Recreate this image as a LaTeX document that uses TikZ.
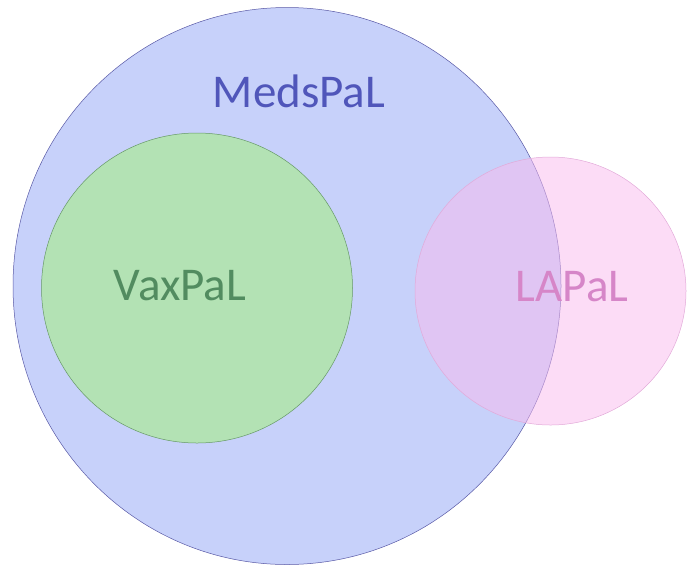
\documentclass[tikz,border=0pt]{standalone}
\usepackage{fontspec}
\setmainfont{Carlito}
\usetikzlibrary{shapes.geometric}

\definecolor{medsFill}{RGB}{199,209,250}
\definecolor{medsText}{RGB}{80,86,186}
\definecolor{vaxFill}{RGB}{179,226,180}
\definecolor{vaxText}{RGB}{82,140,96}
\definecolor{laFill}{RGB}{249,186,237}
\definecolor{laText}{RGB}{214,134,200}

\tikzset{
    setbox/.style={ellipse, inner sep=0pt, line width=0.5pt},
    setlabel/.style={font=\fontsize{47}{47}\selectfont, inner sep=0pt}
}

\begin{document}
\begin{tikzpicture}[x=1pt,y=-1pt]
    \useasboundingbox (0,0) rectangle (687,566);

    %conjuntos
    \node[setbox, fill=medsFill, draw=gray!70!blue,
        minimum width=548pt, minimum height=557pt] (meds) at (287,286) {};
    \node[setbox, fill=vaxFill, draw=gray!80!green,
        minimum width=311pt, minimum height=310pt] (vax) at (197,288) {};
    \node[setbox, fill=laFill, fill opacity=0.5, draw=laText!70,
        minimum width=271pt, minimum height=268pt] (la) at (550.5,291) {};

    %rotulos
    \node[setlabel, text=medsText] (medsName) at (299,91) {MedsPaL};
    \node[setlabel, text=vaxText] (vaxName) at (180,286) {VaxPaL};
    \node[setlabel, text=laText] (laName) at (572,287) {LAPaL};
\end{tikzpicture}
\end{document}
